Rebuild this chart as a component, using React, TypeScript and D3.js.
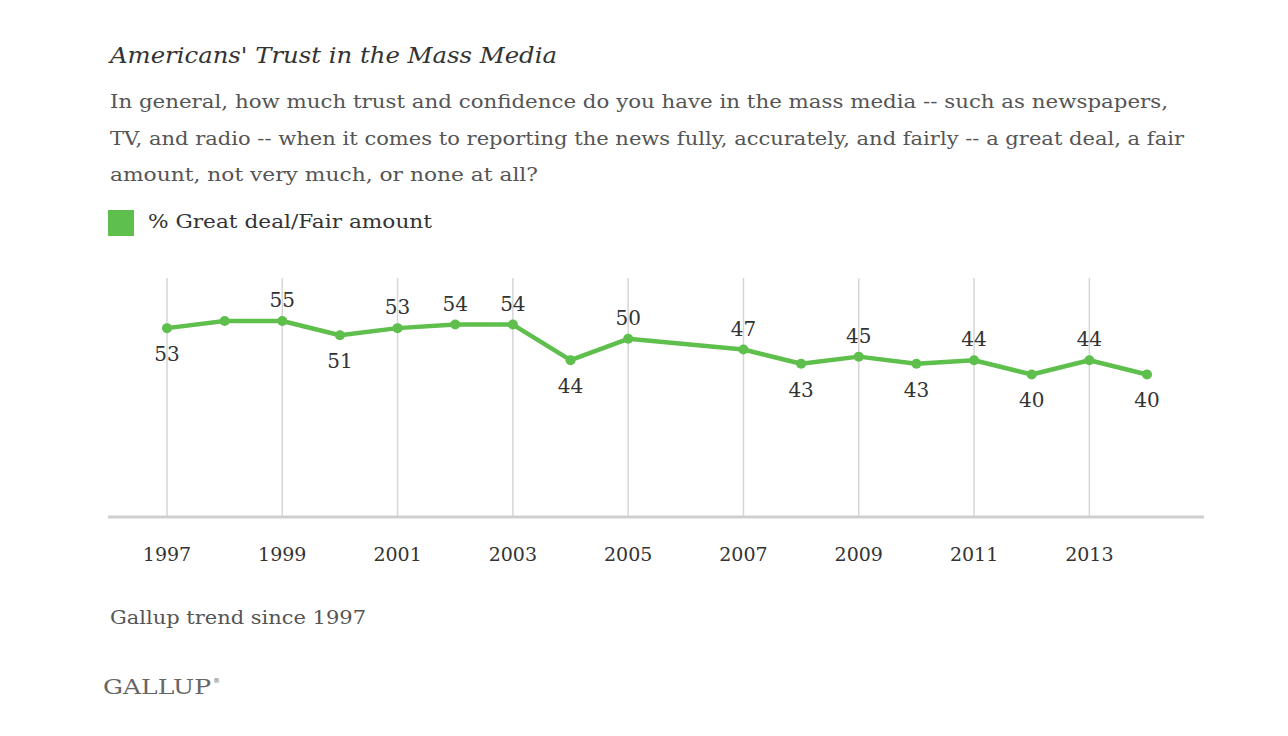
import React from "react";
import * as d3 from "d3";

const years = [1997, 1998, 1999, 2000, 2001, 2002, 2003, 2004, 2005, 2007, 2008, 2009, 2010, 2011, 2012, 2013, 2014];
const values = [53, 55, 55, 51, 53, 54, 54, 44, 50, 47, 43, 45, 43, 44, 40, 44, 40];
const labelPos = ["below", "none", "above", "below", "above", "above", "above", "below", "above", "above", "below", "above", "below", "above", "below", "above", "below"];
const tickYears = [1997, 1999, 2001, 2003, 2005, 2007, 2009, 2011, 2013];
const title = "Americans' Trust in the Mass Media";
const subtitleLines = [
  "In general, how much trust and confidence do you have in the mass media -- such as newspapers,",
  "TV, and radio -- when it comes to reporting the news fully, accurately, and fairly -- a great deal, a fair",
  "amount, not very much, or none at all?",
];
const legendLabel = "% Great deal/Fair amount";
const note = "Gallup trend since 1997";
const brand = "GALLUP";

const GREEN = "#5fbf4c";
const SERIF = "'DejaVu Serif', 'Liberation Serif', serif";

export default function App() {
  const x = d3.scaleLinear().domain([1997, 2014]).range([159, 1139]);
  const y = d3.scaleLinear().domain([0, 55]).range([509, 313]);
  const pts = years.map((yr, i) => [x(yr), y(values[i])] as [number, number]);
  const line = d3.line()(pts) || "";
  const gridTop = 270;
  const baseY = y(0);

  return (
    <svg width={1280} height={720} style={{ display: "block" }}>
      <rect width={1280} height={720} fill="#fff" />
      <text x={102} y={55} fontFamily={SERIF} fontStyle="italic" fontSize={22} fill="#333" textLength={447} lengthAdjust="spacingAndGlyphs">
        {title}
      </text>
      {subtitleLines.map((s, i) => (
        <text key={i} x={102} y={100 + i * 36.5} fontFamily={SERIF} fontSize={19} fill="#555"
          textLength={[1058, 1074, 428][i]} lengthAdjust="spacingAndGlyphs">
          {s}
        </text>
      ))}
      <rect x={100} y={202} width={26} height={26} fill={GREEN} />
      <text x={140} y={220} fontFamily={SERIF} fontSize={19} fill="#333" textLength={284} lengthAdjust="spacingAndGlyphs">
        {legendLabel}
      </text>

      {tickYears.map((t) => (
        <g key={t}>
          <line x1={x(t)} x2={x(t)} y1={gridTop} y2={baseY} stroke="#d6d6d6" strokeWidth={1.5} />
          <text x={x(t)} y={553} textAnchor="middle" fontFamily={SERIF} fontSize={19} fill="#333">
            {t}
          </text>
        </g>
      ))}
      <line x1={100} x2={1196} y1={baseY} y2={baseY} stroke="#cfcfcf" strokeWidth={3} />

      <path d={line} fill="none" stroke={GREEN} strokeWidth={4.5} strokeLinejoin="round" />
      {pts.map((p, i) => (
        <circle key={i} cx={p[0]} cy={p[1]} r={5} fill={GREEN} />
      ))}
      {pts.map((p, i) =>
        labelPos[i] === "none" ? null : (
          <text key={"l" + i} x={p[0]} y={labelPos[i] === "above" ? p[1] - 14 : p[1] + 33} textAnchor="middle"
            fontFamily={SERIF} fontSize={20} fill="#333">
            {values[i]}
          </text>
        )
      )}

      <text x={102} y={616} fontFamily={SERIF} fontSize={19} fill="#555" textLength={256} lengthAdjust="spacingAndGlyphs">
        {note}
      </text>
      <text x={95} y={686} fontFamily={SERIF} fontSize={21} fill="#666" textLength={108} lengthAdjust="spacingAndGlyphs">
        {brand}
      </text>
      <text x={205} y={675} fontFamily={SERIF} fontSize={7} fill="#666">®</text>
    </svg>
  );
}
